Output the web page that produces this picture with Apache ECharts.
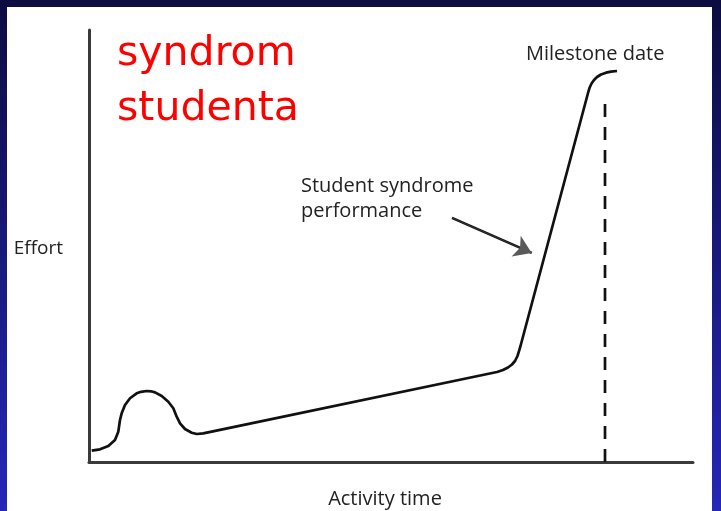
<!DOCTYPE html>
<html>
<head>
<meta charset="utf-8">
<script src="https://cdn.jsdelivr.net/npm/echarts@6/dist/echarts.min.js"></script>
<style>
html,body{margin:0;padding:0;width:721px;height:511px;overflow:hidden;}
#chart{width:721px;height:511px;}
</style>
</head>
<body>
<div id="chart"></div>
<script>
// Effort curve over activity time (x: activity time 0-100, y: effort 0-100)
var curveX = [0.45,1.82,3.20,4.30,4.85,5.13,5.41,5.96,6.79,7.90,8.61,9.55,10.26,10.93,12.04,13.13,13.96,14.52,15.07,15.89,17.00,17.83,18.92,
              67.55,68.54,69.37,70.03,70.53,70.94,71.19,71.44,
              82.62,82.86,83.20,83.61,84.11,84.77,85.60,86.42,87.42];
var curveY = [2.62,2.94,3.70,5.09,7.01,9.72,11.27,13.19,14.75,15.90,16.25,16.44,16.37,16.13,15.28,13.96,12.43,10.49,8.96,7.64,6.78,6.48,6.64,
              20.83,21.30,21.88,22.57,23.38,24.54,25.69,26.85,
              85.42,86.57,87.62,88.43,89.12,89.70,90.12,90.35,90.51];
// Milestone date (dashed vertical line)
var milestoneX = 85.43;
var milestoneTop = 83.33;
// Annotation arrow: start and end points
var arrowFrom = [60.1, 56.5];
var arrowTo = [73.3, 48.4];
// Texts
var titleText = 'syndrom\nstudenta';
var xName = 'Activity time';
var yName = 'Effort';
var milestoneLabel = 'Milestone date';
var curveLabel = 'Student syndrome\nperformance';

var curveData = curveX.map(function (x, i) { return [x, curveY[i]]; });

var chart = echarts.init(document.getElementById('chart'), null, {renderer: 'canvas'});
var textFont = '"Open Sans", sans-serif';
chart.setOption({
  animation: false,
  backgroundColor: {
    type: 'linear', x: 0, y: 0, x2: 0, y2: 1,
    colorStops: [{offset: 0, color: '#0c0c40'}, {offset: 1, color: '#2626b8'}]
  },
  graphic: [
    {type: 'rect', z: -10, silent: true, shape: {x: 7, y: 7, width: 705, height: 504}, style: {fill: '#ffffff'}},
    {type: 'text', left: 117, top: 27, style: {text: titleText, fill: '#ff0000', font: '41px "DejaVu Sans"', lineHeight: 55}},
    {type: 'text', left: 526, top: 44, style: {text: milestoneLabel, fill: '#222', font: '20px ' + textFont}},
    {type: 'text', left: 301, top: 174, style: {text: curveLabel, fill: '#222', font: '20px ' + textFont, lineHeight: 25}}
  ],
  grid: {left: 89, right: 28, top: 30, bottom: 49, outerBoundsMode: 'none'},
  xAxis: {
    type: 'value', min: 0, max: 100,
    name: xName, nameLocation: 'middle', nameGap: 27,
    nameTextStyle: {color: '#222', fontSize: 20, fontFamily: textFont, padding: [0, 12, 0, 0]},
    axisLine: {show: true, lineStyle: {color: '#3a3a3a', width: 3}},
    axisTick: {show: false}, axisLabel: {show: false}, splitLine: {show: false}
  },
  yAxis: {
    type: 'value', min: 0, max: 100,
    name: yName, nameLocation: 'middle', nameGap: 26, nameRotate: 0,
    nameTextStyle: {color: '#222', fontSize: 19, fontFamily: textFont, verticalAlign: 'top', lineHeight: 6},
    axisLine: {show: true, lineStyle: {color: '#3a3a3a', width: 3}},
    axisTick: {show: false}, axisLabel: {show: false}, splitLine: {show: false}
  },
  series: [
    {
      type: 'line', data: curveData, smooth: false, symbol: 'none',
      lineStyle: {color: '#111', width: 2.7, join: 'round'}
    },
    {
      type: 'line', data: [[milestoneX, 0], [milestoneX, milestoneTop]], symbol: 'none',
      lineStyle: {color: '#111', width: 2.7, type: [13, 10]}
    },
    {
      type: 'lines', coordinateSystem: 'cartesian2d',
      symbol: ['none', 'none'],
      lineStyle: {color: '#111', width: 2.5, opacity: 1},
      data: [{coords: [arrowFrom, arrowTo]}]
    },
    {
      type: 'lines', coordinateSystem: 'cartesian2d', z: 3,
      symbol: ['none', 'arrow'], symbolSize: [0, 17],
      lineStyle: {color: '#5a5a5a', width: 0.5, opacity: 1},
      data: [{coords: [arrowFrom, arrowTo]}]
    }
  ]
});
</script>
</body>
</html>
